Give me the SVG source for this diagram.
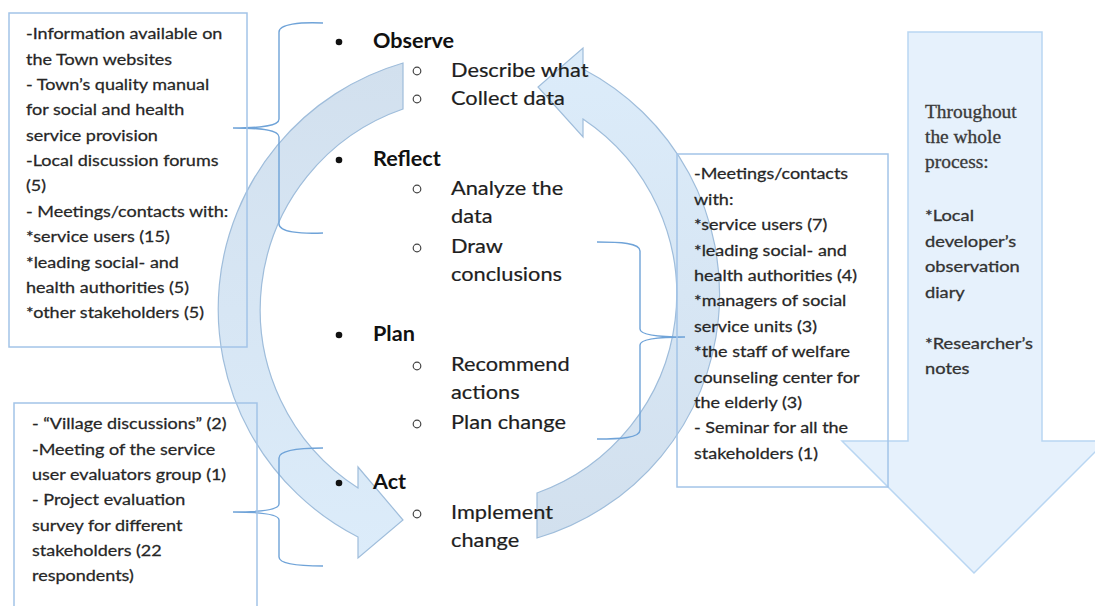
<svg xmlns="http://www.w3.org/2000/svg" width="1095" height="606" viewBox="0 0 1095 606">
<style>
.box{fill:none;stroke:#a3c4e8;stroke-width:1.5}
.brace{fill:none;stroke:#6fa3d8;stroke-width:1.4}
.t{font-family:Lato,"Open Sans",sans-serif;font-size:15.5px;fill:#262626;stroke:#262626;stroke-width:0.25}
.m{font-family:Lato,"Open Sans",sans-serif;font-size:20px;fill:#1e1e1e;stroke:#1e1e1e;stroke-width:0.2}
.mb{font-family:Lato,"Open Sans",sans-serif;font-size:20px;font-weight:bold;fill:#111}
.sub{fill:none;stroke:#444;stroke-width:1.2}
.dot{fill:#111}
.serif{font-family:"Liberation Serif",serif;font-size:18px;fill:#3a3a3a;stroke:#3a3a3a;stroke-width:0.3}
.ta{font-family:Lato,"Open Sans",sans-serif;font-size:15.5px;fill:#333;stroke:#333;stroke-width:0.3}
.carrow{stroke:#9fbddb;stroke-width:1.2}
</style>
<defs>
<linearGradient id="gl" x1="0" y1="0" x2="0" y2="1">
<stop offset="0" stop-color="#d2e0ee"/>
<stop offset="1" stop-color="#dcecfa"/>
</linearGradient>
<linearGradient id="gr" x1="0" y1="1" x2="0" y2="0">
<stop offset="0" stop-color="#d2e0ee"/>
<stop offset="1" stop-color="#dcecfa"/>
</linearGradient>
</defs>
<rect width="1095" height="606" fill="#ffffff"/>

<g id="arrow-throughout">
<polygon points="908,32 1042,32 1042,441 1106,441 974,573 842,441 908,441" fill="#e6f1fc" stroke="#b9d6f2" stroke-width="1.5"/>
<g transform="translate(925,0) scale(1.08,1)">
<text class="serif" x="0" y="118">Throughout</text>
<text class="serif" x="0" y="143">the whole</text>
<text class="serif" x="0" y="168">process:</text>
</g>
<g transform="translate(925,0) scale(1.18,1)">
<text class="ta" x="0" y="221">*Local</text>
<text class="ta" x="0" y="247">developer’s</text>
<text class="ta" x="0" y="272">observation</text>
<text class="ta" x="0" y="298">diary</text>
<text class="ta" x="0" y="349">*Researcher’s</text>
<text class="ta" x="0" y="374">notes</text>
</g>
</g>

<g id="cycle-arrows">
<path id="arrow-left" class="carrow" fill="url(#gl)" d="M403,63 A256,256 0 0 0 358,537 L358,558 L403,520 L358,467 L358,488 A212,212 0 0 1 403,109 Z"/>
<path id="arrow-right" class="carrow" fill="url(#gr)" d="M537,538 A254,254 0 0 0 583,69 L583,48 L538,87 L583,137 L583,119 A211,211 0 0 1 537,493 Z"/>
</g>

<g id="connectors">
<path class="brace" d="M323,23 C300,22 279,24 279,32 L279,119 C279,126 262,128 233,128 C262,128 279,130 279,137 L279,224 C279,232 300,234 323,233"/>
<path class="brace" d="M597,242 C620,242 640,243 640,251 L640,329 C640,335 660,337 685,337 C660,337 640,339 640,345 L640,430 C640,438 620,439 597,439"/>
<path class="brace" d="M323,448 C300,448 279,450 279,458 L279,504 C279,510 262,512 233,512 C262,512 279,514 279,520 L279,557 C279,564 300,566 323,566"/>
</g>

<g id="box-observe-sources">
<rect class="box" x="9" y="13" width="238" height="334"/>
<g transform="translate(26,0) scale(1.16,1)">
<text class="t" x="0" y="39">-Information available on</text>
<text class="t" x="0" y="65">the Town websites</text>
<text class="t" x="0" y="90">- Town’s quality manual</text>
<text class="t" x="0" y="115">for social and health</text>
<text class="t" x="0" y="141">service provision</text>
<text class="t" x="0" y="166">-Local discussion forums</text>
<text class="t" x="0" y="191">(5)</text>
<text class="t" x="0" y="217">- Meetings/contacts with:</text>
<text class="t" x="0" y="242">*service users (15)</text>
<text class="t" x="0" y="268">*leading social- and</text>
<text class="t" x="0" y="293">health authorities (5)</text>
<text class="t" x="0" y="318">*other stakeholders (5)</text>
</g>
</g>

<g id="box-act-sources">
<path class="box" d="M14,610 L14,403 L257,403 L257,610"/>
<g transform="translate(32,0) scale(1.16,1)">
<text class="t" x="0" y="429">- “Village discussions” (2)</text>
<text class="t" x="0" y="455">-Meeting of the service</text>
<text class="t" x="0" y="480">user evaluators group (1)</text>
<text class="t" x="0" y="505">- Project evaluation</text>
<text class="t" x="0" y="531">survey for different</text>
<text class="t" x="0" y="556">stakeholders (22</text>
<text class="t" x="0" y="581">respondents)</text>
</g>
</g>

<g id="box-reflect-plan-sources">
<rect class="box" x="677" y="154" width="211" height="333"/>
<g transform="translate(694,0) scale(1.16,1)">
<text class="t" x="0" y="179">-Meetings/contacts</text>
<text class="t" x="0" y="205">with:</text>
<text class="t" x="0" y="230">*service users (7)</text>
<text class="t" x="0" y="256">*leading social- and</text>
<text class="t" x="0" y="281">health authorities (4)</text>
<text class="t" x="0" y="306">*managers of social</text>
<text class="t" x="0" y="332">service units (3)</text>
<text class="t" x="0" y="357">*the staff of welfare</text>
<text class="t" x="0" y="383">counseling center for</text>
<text class="t" x="0" y="408">the elderly (3)</text>
<text class="t" x="0" y="433">- Seminar for all the</text>
<text class="t" x="0" y="459">stakeholders (1)</text>
</g>
</g>

<g id="cycle-steps">
<circle class="dot" cx="339" cy="42" r="3.3"/>
<circle class="sub" cx="417" cy="71" r="3.8"/>
<circle class="sub" cx="417" cy="99" r="3.8"/>
<circle class="dot" cx="339" cy="160" r="3.3"/>
<circle class="sub" cx="417" cy="189" r="3.8"/>
<circle class="sub" cx="417" cy="248" r="3.8"/>
<circle class="dot" cx="339" cy="335" r="3.3"/>
<circle class="sub" cx="417" cy="366" r="3.8"/>
<circle class="sub" cx="417" cy="424" r="3.8"/>
<circle class="dot" cx="339" cy="483" r="3.3"/>
<circle class="sub" cx="417" cy="514" r="3.8"/>
<g transform="translate(373,0) scale(1.08,1)">
<text class="mb" x="0" y="48">Observe</text>
<text class="mb" x="0" y="166">Reflect</text>
<text class="mb" x="0" y="341">Plan</text>
<text class="mb" x="0" y="489">Act</text>
</g>
<g transform="translate(451,0) scale(1.09,1)">
<text class="m" x="0" y="77">Describe what</text>
<text class="m" x="0" y="105">Collect data</text>
<text class="m" x="0" y="195">Analyze the</text>
<text class="m" x="0" y="223">data</text>
<text class="m" x="0" y="253">Draw</text>
<text class="m" x="0" y="281">conclusions</text>
<text class="m" x="0" y="371">Recommend</text>
<text class="m" x="0" y="399">actions</text>
<text class="m" x="0" y="429">Plan change</text>
<text class="m" x="0" y="519">Implement</text>
<text class="m" x="0" y="547">change</text>
</g>
</g>
</svg>
